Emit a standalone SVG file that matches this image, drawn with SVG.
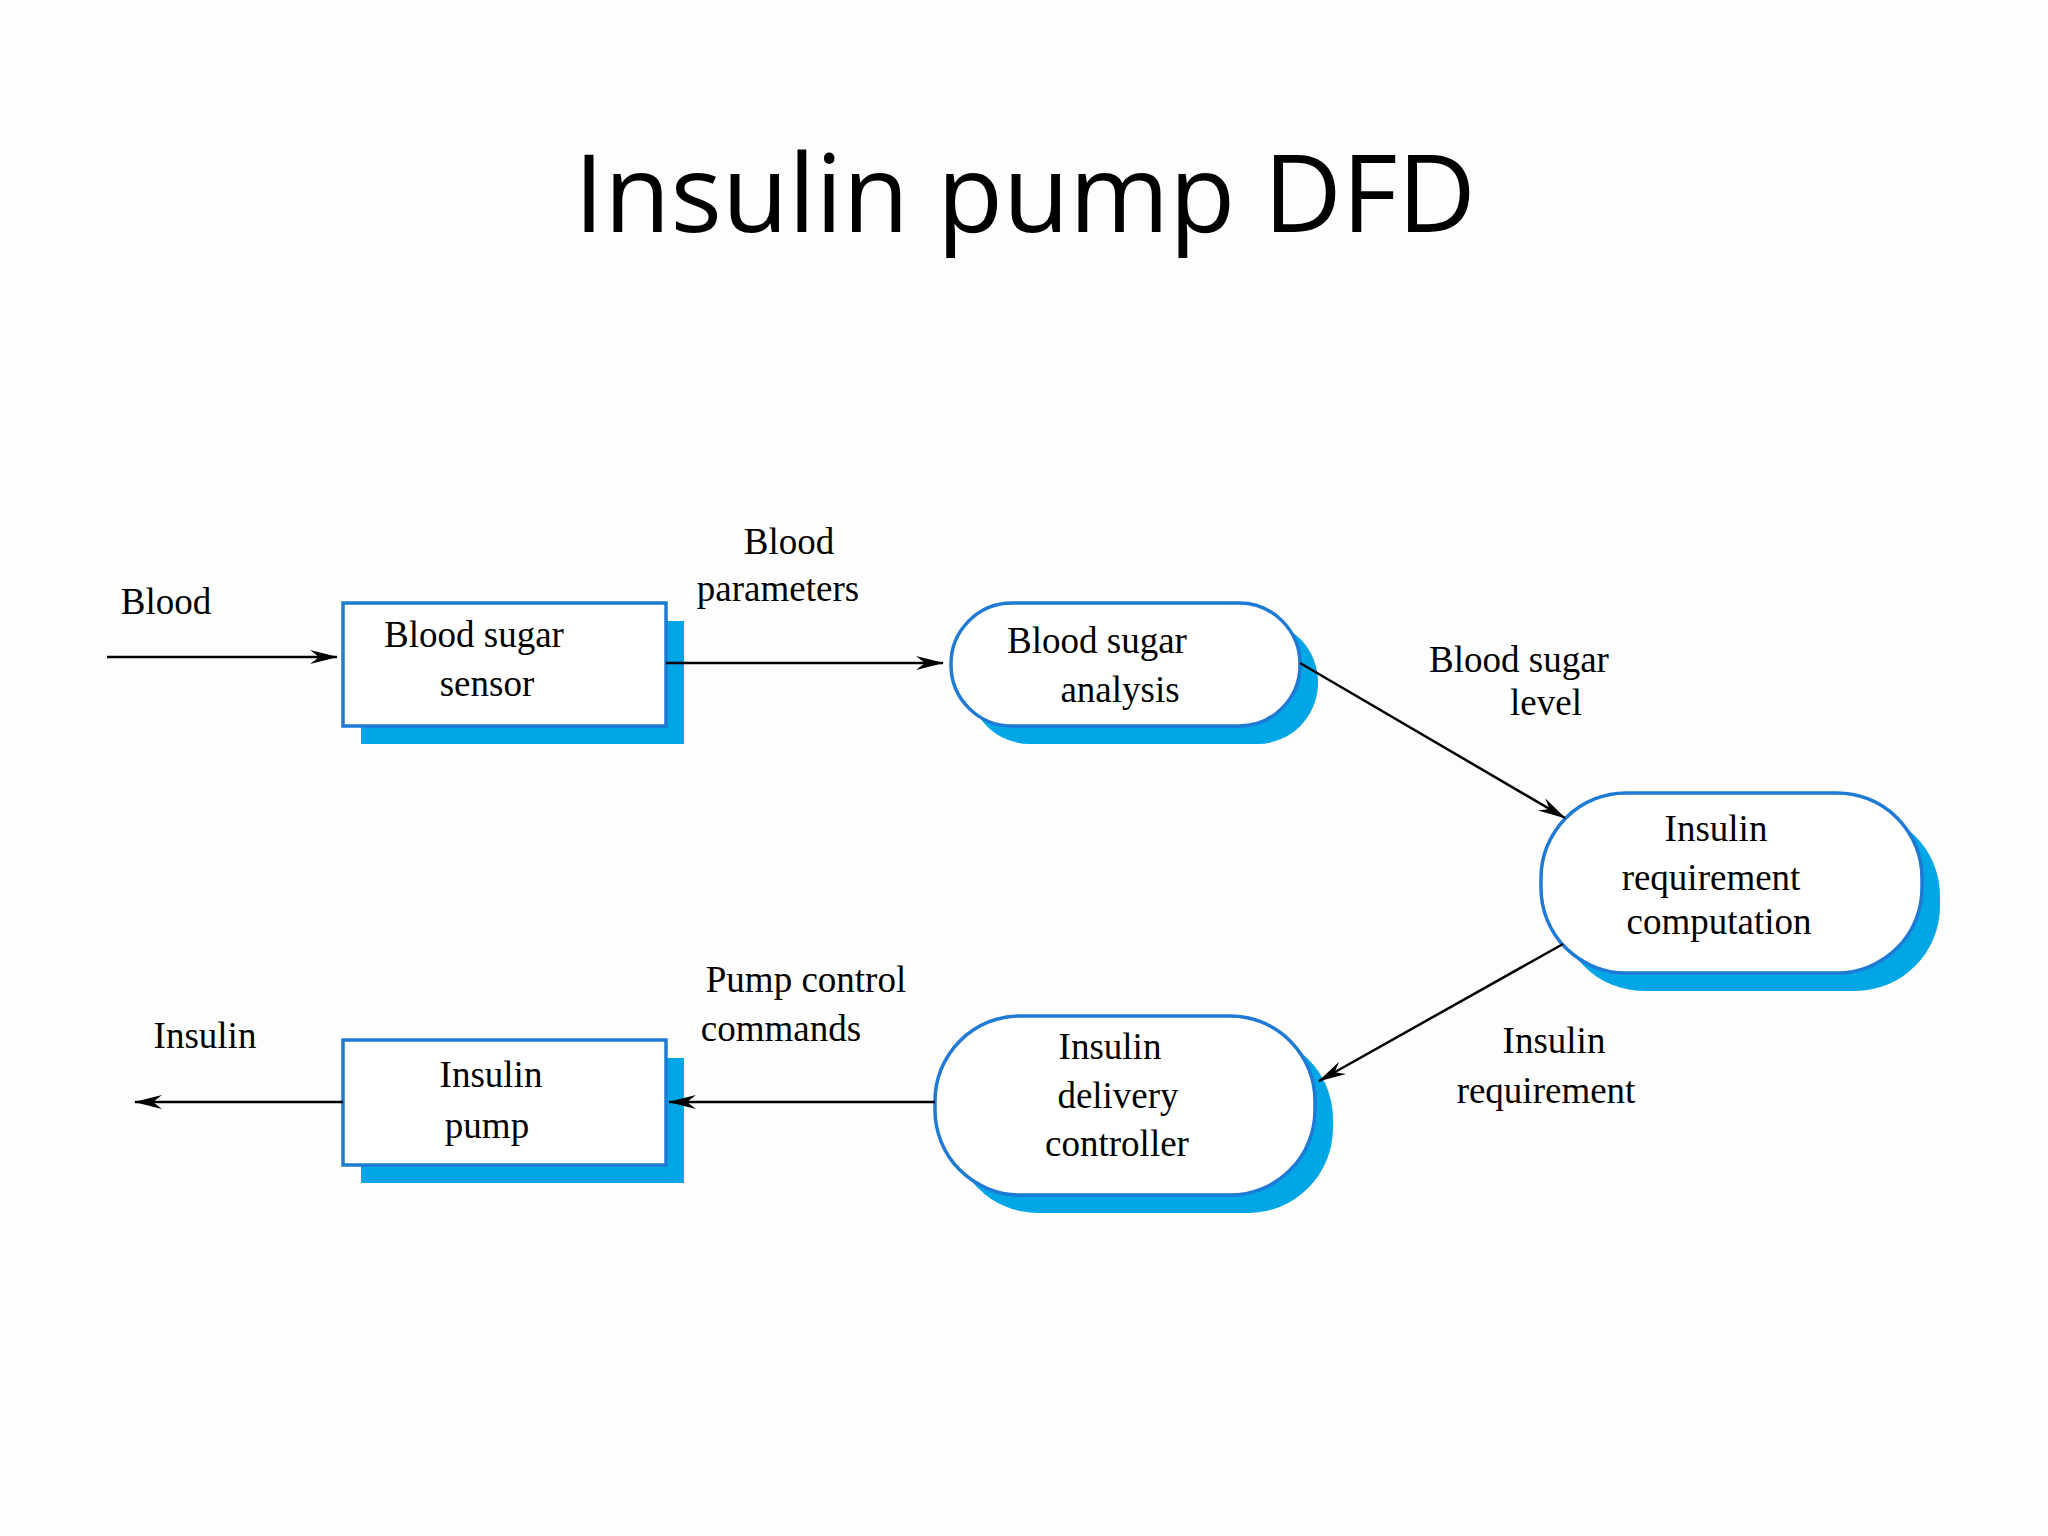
<svg xmlns="http://www.w3.org/2000/svg" width="2048" height="1536" viewBox="0 0 2048 1536">
<style>
.t{font-family:"Liberation Serif",serif;font-size:37px;fill:#000;text-anchor:middle}
.n{fill:#fff;stroke:#1f7ad6;stroke-width:3.5}
.s{fill:#00a6e6}
.c{stroke:#000;stroke-width:2.5;fill:none;marker-end:url(#a)}
</style>
<defs><marker id="a" viewBox="0 0 28 16" refX="27" refY="8" markerWidth="28" markerHeight="16" markerUnits="userSpaceOnUse" orient="auto"><path d="M0,1 L28,8 L0,15 L9,8 Z" fill="#000"/></marker></defs>
<rect width="2048" height="1536" fill="#fdfdfd"/>
<text x="1025" y="232" style="font-family:'Open Sans',sans-serif;font-size:108px;text-anchor:middle">Insulin pump DFD</text>
<g id="sensor"><rect class="s" x="361" y="621" width="323" height="123"/><rect class="n" x="343" y="603" width="323" height="123"/><text class="t" x="474" y="647">Blood sugar</text><text class="t" x="487" y="696">sensor</text></g>
<g id="analysis"><rect class="s" x="969" y="621" width="349" height="123" rx="61"/><rect class="n" x="951" y="603" width="349" height="123" rx="61"/><text class="t" x="1097" y="653">Blood sugar</text><text class="t" x="1120" y="702">analysis</text></g>
<g id="computation"><rect class="s" x="1559" y="811" width="381" height="180" rx="85"/><rect class="n" x="1541" y="793" width="381" height="180" rx="85"/><text class="t" x="1716" y="841">Insulin</text><text class="t" x="1711" y="890">requirement</text><text class="t" x="1719" y="934">computation</text></g>
<g id="delivery"><rect class="s" x="953" y="1034" width="380" height="179" rx="85"/><rect class="n" x="935" y="1016" width="380" height="179" rx="85"/><text class="t" x="1110" y="1059">Insulin</text><text class="t" x="1118" y="1108">delivery</text><text class="t" x="1117" y="1156">controller</text></g>
<g id="pump"><rect class="s" x="361" y="1058" width="323" height="125"/><rect class="n" x="343" y="1040" width="323" height="125"/><text class="t" x="491" y="1087">Insulin</text><text class="t" x="487" y="1138">pump</text></g>
<g id="connectors">
<line class="c" x1="107" y1="657" x2="337" y2="657"/>
<line class="c" x1="666" y1="663" x2="943" y2="663"/>
<line class="c" x1="1300" y1="663" x2="1565" y2="818"/>
<line class="c" x1="1563" y1="944" x2="1319" y2="1081"/>
<line class="c" x1="935" y1="1102" x2="669" y2="1102"/>
<line class="c" x1="343" y1="1102" x2="135" y2="1102"/>
<text class="t" x="166" y="614">Blood</text>
<text class="t" x="789" y="554">Blood</text><text class="t" x="778" y="601">parameters</text>
<text class="t" x="1519" y="672">Blood sugar</text><text class="t" x="1546" y="715">level</text>
<text class="t" x="1554" y="1053">Insulin</text><text class="t" x="1546" y="1103">requirement</text>
<text class="t" x="806" y="992">Pump control</text><text class="t" x="781" y="1041">commands</text>
<text class="t" x="205" y="1048">Insulin</text>
</g>
</svg>
